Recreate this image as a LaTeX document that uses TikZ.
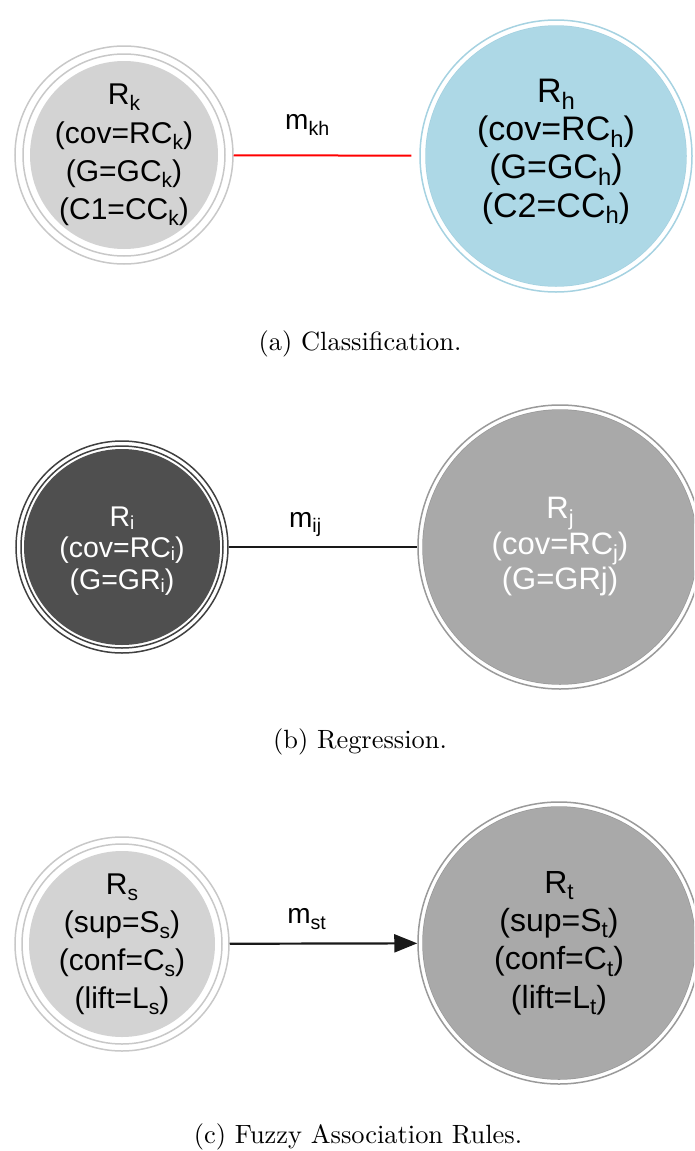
\documentclass[tikz,border=0pt]{standalone}
\usepackage{fontspec}
\newfontfamily\arial{Liberation Sans}
\usetikzlibrary{arrows.meta}

\definecolor{lgfill}{HTML}{D3D3D3}
\definecolor{lgring}{HTML}{C8C8C8}
\definecolor{lbfill}{HTML}{ADD8E6}
\definecolor{lbring}{HTML}{A6D2E1}
\definecolor{dkfill}{HTML}{4F4F4F}
\definecolor{dkring}{HTML}{404040}
\definecolor{mgfill}{HTML}{A9A9A9}
\definecolor{mgring}{HTML}{9A9A9A}

% lowered, reduced subscript
\newcommand\lowsub[1]{\raisebox{-0.2em}{\scalebox{0.7}{#1}}}
% subscript with a smaller drop, for tightly spaced lines
\newcommand\tightsub[1]{\raisebox{-0.12em}{\scalebox{0.66}{#1}}}
% extra depth below the last line, lifting the text block
\newcommand\lift[1]{\rule[-#1]{0pt}{0pt}}

\tikzset{
  % #1 ring colour, #2 fill colour, #3 outer ring radius, #4 inner ring radius, #5 fill radius
  rulenode/.style n args={5}{circle, inner sep=0pt, minimum size=2*#3, draw=#1,
    line width=1.5pt, align=center,
    path picture={
      \draw[#1, line width=1.5pt] (path picture bounding box.center) circle[radius=#4];
      \fill[#2] (path picture bounding box.center) circle[radius=#5];}},
  rulefont/.style 2 args={font={\arial\fontsize{#1}{#2}\selectfont}},
  lbl/.style={font={\arial\fontsize{28}{30}\selectfont}, anchor=base, inner sep=0pt},
  captext/.style={anchor=base, inner sep=0pt},
  rededge/.style={draw=red, line width=2pt},
  blackedge/.style={draw=black!90, line width=2.2pt},
  arrowedge/.style={draw=black!90, line width=2.2pt, -{Triangle[length=23pt,width=18pt]}},
}

\begin{document}
\begin{tikzpicture}[x=1pt,y=-1pt]
\useasboundingbox (0,0) rectangle (694,1151);
\clip (0,0) rectangle (694,1151);

% (a) classification
\node[rulenode={lgring}{lgfill}{109pt}{101pt}{94pt}, rulefont={30}{38.3}] (Rk) at (124,155)
  {R\lowsub{k}\\(cov=RC\lowsub{k})\\(G=GC\lowsub{k})\\(C1=CC\lowsub{k})\lift{4pt}};
\node[rulenode={lbring}{lbfill}{136pt}{130pt}{130pt}, rulefont={34}{38.3}] (Rh) at (556,156)
  {R\lowsub{h}\\(cov=RC\lowsub{h})\\(G=GC\lowsub{h})\\(C2=CC\lowsub{h})\lift{16pt}};
\draw[rededge, shorten >=8pt] (Rk) -- (Rh)
  node[lbl, pos=0.396, yshift=26pt] (mkh) {m\lowsub{kh}};
\node[captext] (capa) at (360,350) {\scalebox{2.64}{(a) Classification.}};

% (b) regression
\node[rulenode={dkring}{dkfill}{106pt}{101pt}{98pt}, rulefont={28.5}{31.5}, text=white] (Ri) at (122,547)
  {\rule{0pt}{27pt}R\tightsub{i}\\(cov=RC\tightsub{i})\\(G=GR\tightsub{i})};
\node[rulenode={mgring}{mgfill}{142pt}{137pt}{137pt}, rulefont={31}{35.5}, text=white] (Rj) at (560,547)
  {R\lowsub{j}\\(cov=RC\lowsub{j})\\(G=GRj)};
\draw[blackedge] (Ri) -- (Rj)
  node[lbl, pos=0.405, yshift=20pt] (mij) {m\lowsub{ij}};
\node[captext] (capb) at (360,748) {\scalebox{2.64}{(b) Regression.}};

% (c) fuzzy association rules
\node[rulenode={lgring}{lgfill}{107pt}{100pt}{93pt}, rulefont={30}{38}] (Rs) at (122,944)
  {R\lowsub{s}\\(sup=S\lowsub{s})\\(conf=C\lowsub{s})\\(lift=L\lowsub{s})\lift{2pt}};
\node[rulenode={mgring}{mgfill}{141pt}{136pt}{136pt}, rulefont={32}{38.3}] (Rt) at (559,943)
  {R\lowsub{t}\\(sup=S\lowsub{t})\\(conf=C\lowsub{t})\\(lift=L\lowsub{t})\lift{2pt}};
\draw[arrowedge] (Rs) -- (Rt)
  node[lbl, pos=0.41, yshift=20pt] (mst) {m\lowsub{st}};
\node[captext] (capc) at (358,1143) {\scalebox{2.64}{(c) Fuzzy Association Rules.}};
\end{tikzpicture}
\end{document}
